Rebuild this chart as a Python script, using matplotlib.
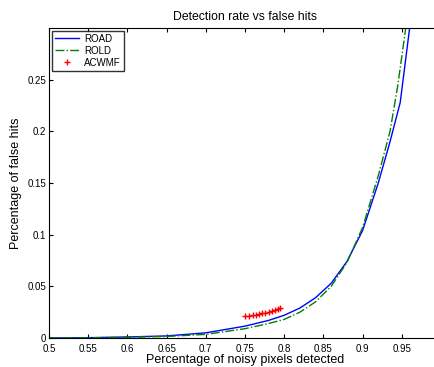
import numpy as np
import matplotlib
matplotlib.use("Agg")
import matplotlib.pyplot as plt

plt.rcParams['font.family'] = ['Liberation Sans', 'DejaVu Sans']

# ROAD curve
road_x = [0.5, 0.55, 0.6, 0.65, 0.7, 0.75, 0.78, 0.8, 0.82, 0.84, 0.86, 0.88, 0.9, 0.92, 0.935, 0.948, 0.96]
road_y = [0, 0.0003, 0.001, 0.002, 0.005, 0.0115, 0.017, 0.022, 0.029, 0.039, 0.053, 0.074, 0.104, 0.15, 0.19, 0.228, 0.30]

# ROLD curve
rold_x = [0.5, 0.55, 0.6, 0.65, 0.7, 0.75, 0.78, 0.8, 0.82, 0.84, 0.86, 0.88, 0.9, 0.92, 0.935, 0.945, 0.955]
rold_y = [0, 0.0002, 0.0007, 0.0015, 0.0035, 0.009, 0.014, 0.018, 0.025, 0.035, 0.05, 0.073, 0.107, 0.157, 0.2, 0.245, 0.30]

# ACWMF points
acwmf_x = [0.750, 0.755, 0.760, 0.764, 0.768, 0.772, 0.776, 0.780, 0.784, 0.788, 0.792, 0.795]
acwmf_y = [0.0213, 0.0216, 0.0221, 0.0226, 0.0232, 0.0238, 0.0245, 0.0253, 0.0262, 0.0270, 0.0279, 0.0288]

fig = plt.figure(figsize=(4.34, 3.67), dpi=100)
ax = fig.add_axes([49/434, 29/367, 392/434, 310/367])

ax.plot(road_x, road_y, 'b-', lw=1.0, label='ROAD')
ax.plot(rold_x, rold_y, '-.', color='#008000', lw=1.0, label='ROLD')
ax.plot(acwmf_x, acwmf_y, 'r+', ms=5, mew=1.0, label='ACWMF')

ax.set_xlim(0.5, 1.0)
ax.set_ylim(0, 0.3)
ax.set_xticks(np.arange(0.5, 0.96, 0.05))
ax.set_xticklabels(['0.5', '0.55', '0.6', '0.65', '0.7', '0.75', '0.8', '0.85', '0.9', '0.95'])
ax.set_yticks([0, 0.05, 0.1, 0.15, 0.2, 0.25])
ax.set_yticklabels(['0', '0.05', '0.1', '0.15', '0.2', '0.25'])
ax.tick_params(direction='in', labelsize=7, length=3, top=True, right=False)
ax.tick_params(axis='x', pad=4)
ax.tick_params(axis='y', pad=2)
ax.spines['right'].set_visible(False)

ax.set_title('Detection rate vs false hits', fontsize=8.8, pad=6)
ax.set_xlabel('Percentage of noisy pixels detected', fontsize=9, labelpad=0)
ax.set_ylabel('Percentage of false hits', fontsize=9, labelpad=4)

leg = ax.legend(loc='upper left', fontsize=7, frameon=True, fancybox=False,
                edgecolor='black', borderaxespad=0.3, handlelength=2.5,
                handletextpad=0.5, labelspacing=0.2, borderpad=0.3)
leg.get_frame().set_linewidth(1.0)

fig.savefig('out.png', dpi=100)
